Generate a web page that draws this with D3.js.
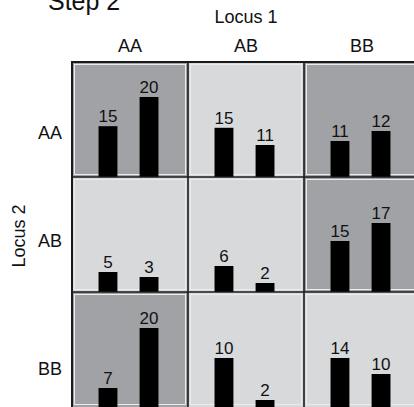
<!DOCTYPE html>
<html>
<head>
<meta charset="utf-8">
<script src="https://cdn.jsdelivr.net/npm/d3@7"></script>
<style>
  body { margin: 0; background: #fff; }
  svg { display: block; font-family: "Liberation Sans", Arial, sans-serif; }
</style>
</head>
<body>
<div id="chart"></div>
<script>
var width = 414,
    height = 407;

// genotypes along each axis
var locus1 = ["AA", "AB", "BB"];
var locus2 = ["AA", "AB", "BB"];

// two bars per cell, cells in row-major order (row = locus 2, column = locus 1)
var countLabels = [15, 20, 15, 11, 11, 12,
                   5, 3, 6, 2, 15, 17,
                   7, 20, 10, 2, 14, 10];

// bar heights as drawn in the picture (same units as the counts)
var barValues = [12.7, 20, 12.3, 8, 9, 11.5,
                 5, 3.75, 6.5, 2.25, 12.75, 17.25,
                 4.75, 19.75, 12.25, 1.75, 12.25, 8.25];

// shaded cells
var darkCells = [1, 0, 1,
                 0, 0, 1,
                 1, 0, 0];

var svg = d3.select("#chart").append("svg")
    .attr("width", width)
    .attr("height", height);

var x = d3.scaleBand()
    .domain(locus1)
    .range([72, 420]);

var y = d3.scaleBand()
    .domain(locus2)
    .range([62, 407]);

var xBar = d3.scaleBand()
    .domain([0, 1])
    .range([6, 107])
    .paddingInner(0.54)
    .paddingOuter(0.5);

var h = d3.scaleLinear()
    .domain([0, 20])
    .range([0, 80]);

var cells = [];
locus2.forEach(function(r, ri) {
    locus1.forEach(function(c, ci) {
        cells.push({row: r, col: c, idx: ri * 3 + ci});
    });
});

function barData(d) {
    return [0, 1].map(function(k) {
        return {k: k, v: barValues[d.idx * 2 + k], label: countLabels[d.idx * 2 + k]};
    });
}

// cell backgrounds
var cell = svg.selectAll(".cell")
    .data(cells)
    .enter().append("g")
    .attr("class", "cell")
    .attr("transform", function(d) { return "translate(" + x(d.col) + "," + y(d.row) + ")"; });

cell.append("rect")
    .attr("width", x.bandwidth())
    .attr("height", y.bandwidth())
    .attr("fill", function(d) { return darkCells[d.idx] ? "#a1a2a6" : "#d8d9db"; });

cell.append("rect")
    .attr("x", 2.5)
    .attr("y", 2.5)
    .attr("width", x.bandwidth() - 5)
    .attr("height", y.bandwidth() - 5)
    .attr("fill", "none")
    .attr("stroke", "#ececec")
    .attr("stroke-width", 1);

// bars
cell.selectAll(".bar")
    .data(barData)
    .enter().append("rect")
    .attr("class", "bar")
    .attr("x", function(d) { return xBar(d.k); })
    .attr("y", function(d) { return y.bandwidth() - h(d.v); })
    .attr("width", xBar.bandwidth())
    .attr("height", function(d) { return h(d.v); })
    .attr("fill", "#000");

cell.selectAll(".bar-label")
    .data(barData)
    .enter().append("text")
    .attr("class", "bar-label")
    .attr("x", function(d) { return xBar(d.k) + xBar.bandwidth() / 2; })
    .attr("y", function(d) { return y.bandwidth() - h(d.v) - 4; })
    .attr("text-anchor", "middle")
    .attr("font-size", "17px")
    .attr("fill", "#111")
    .text(function(d) { return d.label; });

// grid lines
svg.selectAll(".vline")
    .data(locus1.slice(1))
    .enter().append("line")
    .attr("x1", function(d) { return x(d); })
    .attr("x2", function(d) { return x(d); })
    .attr("y1", 62)
    .attr("y2", 407)
    .attr("stroke", "#1a1a1a")
    .attr("stroke-width", 1.6);

svg.selectAll(".hline")
    .data(locus2.slice(1))
    .enter().append("line")
    .attr("x1", 72)
    .attr("x2", 420)
    .attr("y1", function(d) { return y(d); })
    .attr("y2", function(d) { return y(d); })
    .attr("stroke", "#1a1a1a")
    .attr("stroke-width", 1.6);

svg.append("rect")
    .attr("x", 72)
    .attr("y", 62)
    .attr("width", 348)
    .attr("height", 360)
    .attr("fill", "none")
    .attr("stroke", "#1a1a1a")
    .attr("stroke-width", 2);

// axis labels
svg.selectAll(".col-label")
    .data(locus1)
    .enter().append("text")
    .attr("x", function(d) { return x(d) + x.bandwidth() / 2; })
    .attr("y", 52)
    .attr("text-anchor", "middle")
    .attr("font-size", "18px")
    .attr("fill", "#111")
    .text(function(d) { return d; });

var rowNudge = [19.5, 12.5, 25.5];
svg.selectAll(".row-label")
    .data(locus2)
    .enter().append("text")
    .attr("x", 62)
    .attr("y", function(d, i) { return y(d) + y.bandwidth() / 2 + rowNudge[i]; })
    .attr("text-anchor", "end")
    .attr("font-size", "18px")
    .attr("fill", "#111")
    .text(function(d) { return d; });

svg.append("text")
    .attr("x", x("AB") + x.bandwidth() / 2)
    .attr("y", 23)
    .attr("text-anchor", "middle")
    .attr("font-size", "18px")
    .attr("fill", "#111")
    .text("Locus 1");

svg.append("text")
    .attr("transform", "translate(25,236) rotate(-90)")
    .attr("text-anchor", "middle")
    .attr("font-size", "18px")
    .attr("fill", "#111")
    .text("Locus 2");

// title, cut off at the top edge as in the original figure
svg.append("text")
    .attr("x", 48)
    .attr("y", 10)
    .attr("font-size", "25px")
    .attr("fill", "#111")
    .text("Step 2");
</script>
</body>
</html>
